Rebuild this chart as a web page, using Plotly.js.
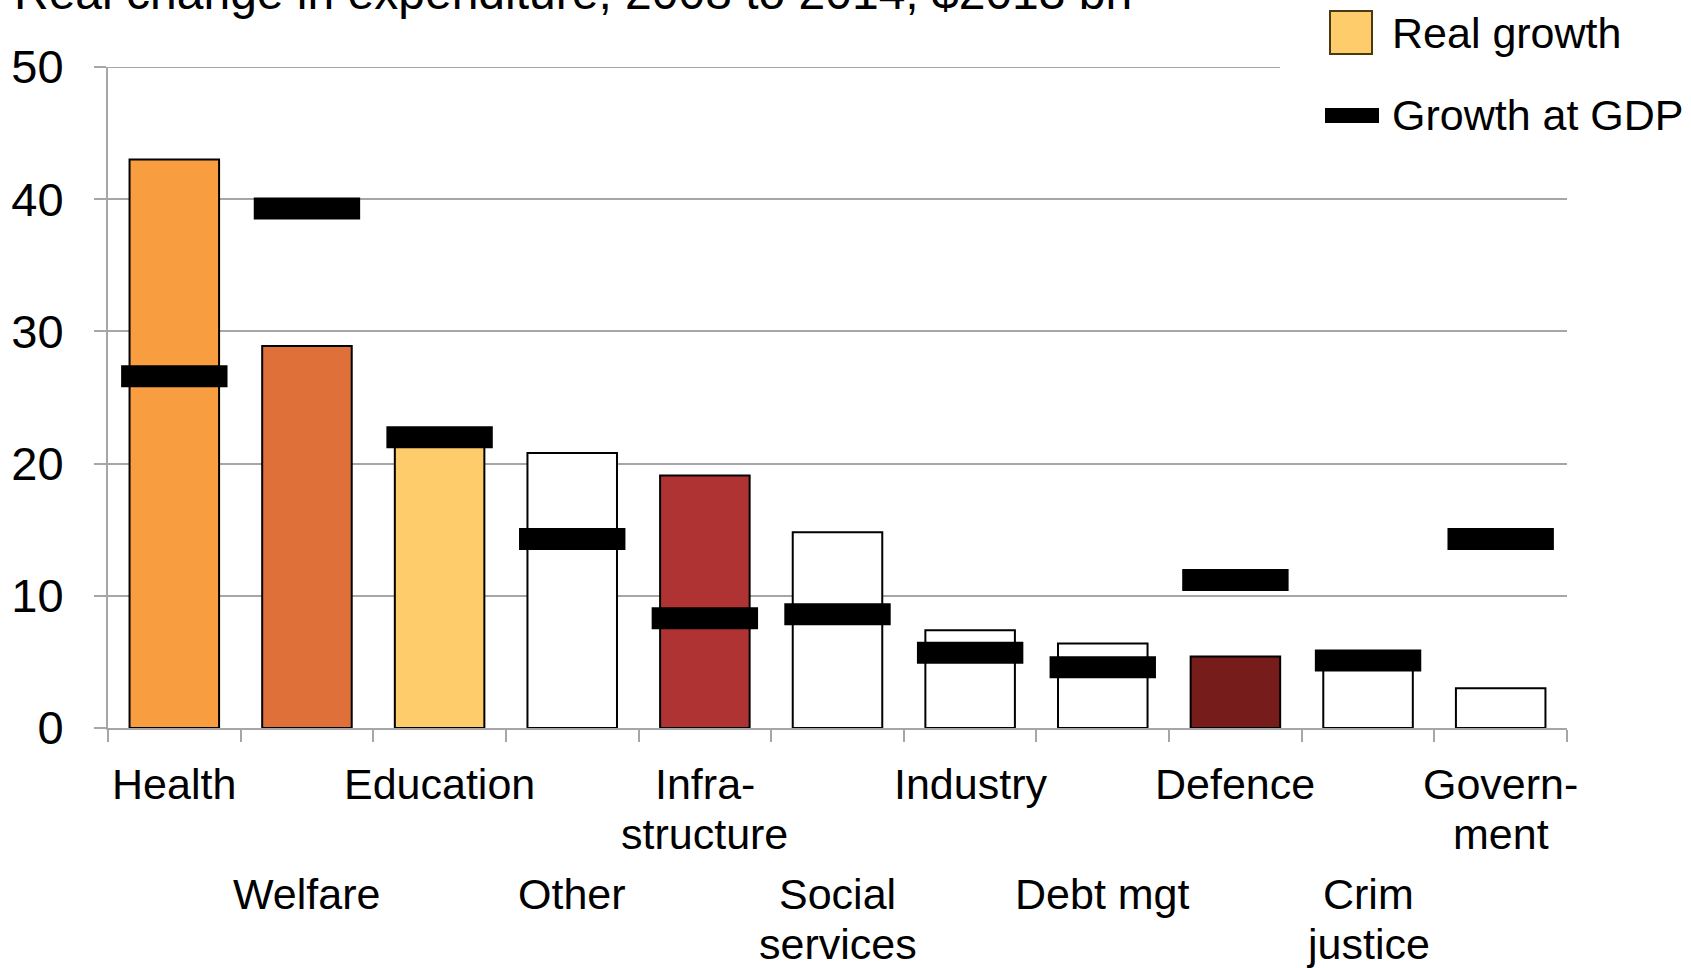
<!DOCTYPE html>
<html>
<head>
<meta charset="utf-8">
<script src="https://cdn.plot.ly/plotly-3.0.1.min.js"></script>
<style>
  html, body { margin: 0; padding: 0; background: #ffffff; }
  #chart { width: 1691px; height: 968px; }
</style>
</head>
<body>
<div id="chart"></div>
<script>
// Real change in expenditure by function, 2008 to 2014 ($2013 bn)
const categories = ["Health", "Welfare", "Education", "Other", "Infrastructure",
  "Social services", "Industry", "Debt mgt", "Defence", "Crim justice", "Government"];
const axisLabels = ["Health", "Welfare", "Education", "Other", "Infra-\nstructure",
  "Social\nservices", "Industry", "Debt mgt", "Defence", "Crim\njustice", "Govern-\nment"];
const realGrowth = [43.0, 28.9, 21.5, 20.8, 19.1, 14.8, 7.4, 6.4, 5.4, 5.0, 3.0];
const gdpGrowth  = [26.6, 39.3, 22.0, 14.3, 8.3, 8.6, 5.7, 4.6, 11.2, 5.1, 14.3];
const barColors  = ["#F99D41", "#E0703A", "#FFCC6B", "#FFFFFF", "#B03333",
  "#FFFFFF", "#FFFFFF", "#FFFFFF", "#761D1B", "#FFFFFF", "#FFFFFF"];
const yTicks = [0, 10, 20, 30, 40, 50];
const titleText = "Real change in expenditure, 2008 to 2014, $2013 bn";
const legendLabels = ["Real growth", "Growth at GDP"];

const W = 1691, H = 968;
const M = { l: 108, r: 124, t: 67, b: 240 };
const PW = W - M.l - M.r, PH = H - M.t - M.b;
const FONT = '"Liberation Sans", Arial, sans-serif';
const GRID = "#A6A6A6";

// pixel -> paper helpers for layout decorations
const px = v => (v - M.l) / PW;
const py = v => (M.t + PH - v) / PH;

const bars = {
  type: "bar",
  x: categories,
  y: realGrowth,
  marker: { color: barColors, line: { color: "#000000", width: 2 } },
  hoverinfo: "skip"
};

const gdpMarks = {
  type: "scatter",
  mode: "markers",
  x: categories,
  y: gdpGrowth,
  marker: {
    symbol: "line-ew",
    size: 76,
    color: "#000000",
    line: { color: "#000000", width: 22 }
  },
  hoverinfo: "skip",
  cliponaxis: false
};

// Staggered category labels: even positions on the upper row, odd on the lower
const annotations = [];
const LINE_STEP = 50;
axisLabels.forEach((lab, i) => {
  const rowShift = (i % 2 === 0) ? 56 : 166;
  lab.split("\n").forEach((line, j) => {
    annotations.push({
      x: categories[i], xref: "x",
      y: 0, yref: "paper",
      yanchor: "middle", xanchor: "center",
      yshift: -(rowShift + j * LINE_STEP),
      text: line, showarrow: false,
      font: { family: FONT, size: 43, color: "#000000" }
    });
  });
});

// Chart heading, running off the top edge
annotations.push({
  x: px(12), xref: "paper", xanchor: "left",
  y: py(-8), yref: "paper", yanchor: "middle",
  text: titleText, showarrow: false,
  font: { family: FONT, size: 48, color: "#000000" }
});

// Legend text
annotations.push({
  x: px(1390), xref: "paper", xanchor: "left",
  y: py(33), yref: "paper", yanchor: "middle",
  text: legendLabels[0], showarrow: false,
  font: { family: FONT, size: 43, color: "#000000" }
});
annotations.push({
  x: px(1390), xref: "paper", xanchor: "left",
  y: py(115), yref: "paper", yanchor: "middle",
  text: legendLabels[1], showarrow: false,
  font: { family: FONT, size: 43, color: "#000000" }
});

const shapes = [
  // top gridline, stopping short of the legend
  { type: "line", xref: "paper", yref: "y", layer: "below",
    x0: 0, x1: px(1280), y0: yTicks[yTicks.length - 1], y1: yTicks[yTicks.length - 1],
    line: { color: GRID, width: 2 } },
  // legend swatch: real growth
  { type: "rect", xref: "paper", yref: "paper", layer: "above",
    x0: px(1330), x1: px(1372), y0: py(54), y1: py(11),
    fillcolor: "#FFCC6B", line: { color: "#4a3a14", width: 2 } },
  // legend swatch: growth at GDP
  { type: "rect", xref: "paper", yref: "paper", layer: "above",
    x0: px(1325), x1: px(1379), y0: py(123), y1: py(108),
    fillcolor: "#000000", line: { width: 0 } }
];

const layout = {
  width: W, height: H,
  margin: M,
  paper_bgcolor: "#FFFFFF",
  plot_bgcolor: "#FFFFFF",
  showlegend: false,
  bargap: 0.325,
  font: { family: FONT, color: "#000000" },
  xaxis: {
    type: "category",
    range: [-0.5, categories.length - 0.5],
    tickson: "boundaries",
    ticks: "outside", ticklen: 12, tickwidth: 2, tickcolor: GRID,
    showticklabels: false,
    showgrid: false,
    showline: true, linecolor: GRID, linewidth: 2,
    zeroline: false, fixedrange: true
  },
  yaxis: {
    range: [0, 50],
    tickvals: yTicks,
    ticks: "outside", ticklen: 12, tickwidth: 2, tickcolor: GRID,
    ticklabelstandoff: 21,
    tickfont: { family: FONT, size: 47, color: "#000000" },
    showgrid: true, gridcolor: GRID, gridwidth: 2,
    showline: true, linecolor: GRID, linewidth: 2,
    zeroline: false, fixedrange: true
  },
  annotations: annotations,
  shapes: shapes
};

Plotly.newPlot("chart", [bars, gdpMarks], layout, { staticPlot: true, displayModeBar: false });
</script>
</body>
</html>
